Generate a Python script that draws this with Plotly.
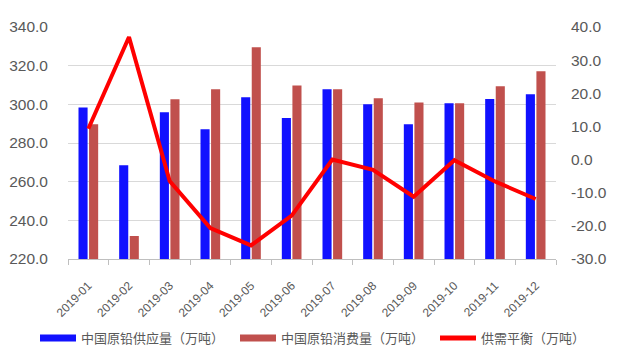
import plotly.graph_objects as go

months = ["2019-01", "2019-02", "2019-03", "2019-04", "2019-05", "2019-06",
          "2019-07", "2019-08", "2019-09", "2019-10", "2019-11", "2019-12"]
supply = [298.3, 268.5, 295.9, 287.1, 303.6, 292.9, 307.8, 300.0, 289.7, 300.5, 302.8, 305.2]
consumption = [289.7, 231.9, 302.6, 307.8, 329.5, 309.8, 307.8, 303.1, 301.0, 300.5, 309.3, 317.1]
balance = [9.3, 37.0, -6.5, -20.7, -25.9, -16.9, 0.0, -3.1, -11.2, -0.2, -6.6, -11.9]

left_ticks = [220, 240, 260, 280, 300, 320, 340]
left_tick_text = ["220.0", "240.0", "260.0", "280.0", "300.0", "320.0", "340.0"]
right_ticks = [-30, -20, -10, 0, 10, 20, 30, 40]
right_tick_text = ["-30.0", "-20.0", "-10.0", "0.0", "10.0", "20.0", "30.0", "40.0"]

name_supply = "中国原铅供应量（万吨）"
name_cons = "中国原铅消费量（万吨）"
name_bal = "供需平衡（万吨）"

BLUE = "#1111FF"
BROWN = "#C0504D"
RED = "#FF0000"
TXT = "#595959"
FONT = "Liberation Sans, Arial, Noto Sans CJK SC, sans-serif"

PLOT_L, PLOT_R, PLOT_T, PLOT_B = 68, 556, 27, 259
W, H = 622, 359

fig = go.Figure()
fig.add_trace(go.Bar(x=months, y=supply, name=name_supply, marker_color=BLUE,
                     marker_line_width=0, showlegend=False))
fig.add_trace(go.Bar(x=months, y=consumption, name=name_cons, marker_color=BROWN,
                     marker_line_width=0, showlegend=False))
fig.add_trace(go.Scatter(x=months, y=balance, name=name_bal, mode="lines",
                         line=dict(color=RED, width=4), yaxis="y2", showlegend=False))

# legend entries (one legend per entry to control spacing)
for i, (nm, col, wd) in enumerate([(name_supply, BLUE, 7), (name_cons, BROWN, 7), (name_bal, RED, 5)]):
    fig.add_trace(go.Scatter(x=[None], y=[None], name=nm, mode="lines",
                             line=dict(color=col, width=wd),
                             legend="legend" if i == 0 else f"legend{i+1}"))

leg_common = dict(orientation="h", yanchor="middle", xanchor="left",
                  xref="container", yref="container", y=(H - 338) / H,
                  font=dict(size=13, color=TXT, family=FONT), itemwidth=36,
                  bgcolor="rgba(0,0,0,0)")

fig.update_layout(
    width=W, height=H,
    margin=dict(l=PLOT_L, r=W - PLOT_R, t=PLOT_T, b=H - PLOT_B, autoexpand=False),
    plot_bgcolor="white", paper_bgcolor="white",
    barmode="group", bargap=0.48, bargroupgap=0.14,
    font=dict(family=FONT, color=TXT),
    xaxis=dict(type="category", tickangle=-45, tickfont=dict(size=12, color=TXT),
               showline=True, linecolor="#BFBFBF", linewidth=1,
               ticks="outside", ticklen=5, tickcolor="#BFBFBF", tickson="boundaries",
               showgrid=False, automargin=False, ticklabelstandoff=14),
    yaxis=dict(range=[220, 340], tickvals=left_ticks, ticktext=left_tick_text,
               tickfont=dict(size=15.5, color=TXT), showgrid=True, gridcolor="#D9D9D9",
               gridwidth=1, zeroline=False, ticks="", ticklabelstandoff=19,
               automargin=False),
    yaxis2=dict(range=[-30, 40], tickvals=right_ticks, ticktext=right_tick_text,
                overlaying="y", side="right",
                tickfont=dict(size=15.5, color=TXT), showgrid=False, zeroline=False,
                ticklabelstandoff=14, automargin=False),
    legend=dict(x=35 / W, **leg_common),
    legend2=dict(x=235 / W, **leg_common),
    legend3=dict(x=435 / W, **leg_common),
)

fig.write_html("out.html", config={"displayModeBar": False},
               post_script="document.body.style.margin='0';document.body.style.padding='0';")
